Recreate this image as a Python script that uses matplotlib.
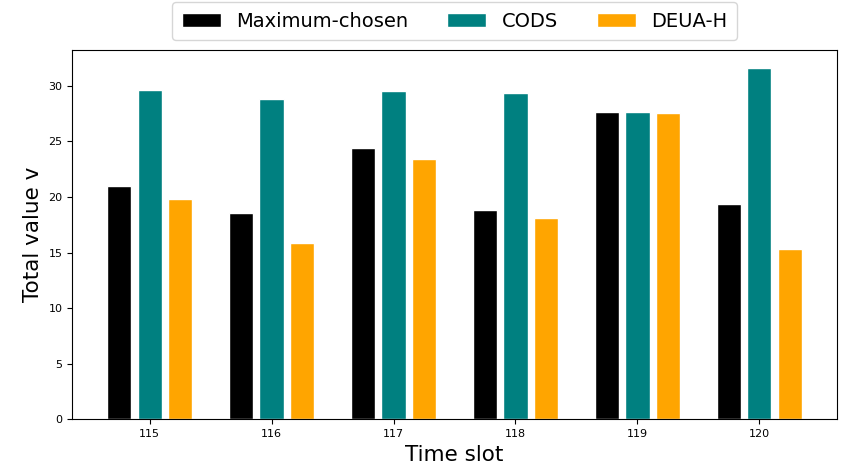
import numpy as np
import matplotlib
matplotlib.use("Agg")
import matplotlib.pyplot as plt

slots = [115, 116, 117, 118, 119, 120]
max_chosen = [21.0, 18.6, 24.45, 18.85, 27.65, 19.35]
cods = [29.65, 28.8, 29.5, 29.4, 27.65, 31.65]
deua_h = [19.85, 15.85, 23.45, 18.1, 27.55, 15.35]

BLACK = "black"
TEAL = "#008080"
ORANGE = "#FFA500"

x = np.array(slots, dtype=float)
w = 0.2
off = 0.25

fig = plt.figure(figsize=(8.42, 4.71), dpi=100)
ax = fig.add_axes([0.0859, 0.1098, 0.9078, 0.784])

ax.bar(x - off, max_chosen, width=w, color=BLACK, edgecolor="white", linewidth=1, label="Maximum-chosen")
ax.bar(x, cods, width=w, color=TEAL, edgecolor="white", linewidth=1, label="CODS")
ax.bar(x + off, deua_h, width=w, color=ORANGE, edgecolor="white", linewidth=1, label="DEUA-H")

ax.set_xticks(x)
ax.set_xticklabels([str(s) for s in slots])
ax.tick_params(labelsize=8)
ax.set_xlabel("Time slot", fontsize=15.5)
ax.set_ylabel("Total value v", fontsize=15.5)

ax.legend(loc="lower center", bbox_to_anchor=(0.5, 1.0), ncol=3, fontsize=14,
          frameon=True, columnspacing=2.0, borderpad=0.5)

fig.savefig("out.png", dpi=100)
